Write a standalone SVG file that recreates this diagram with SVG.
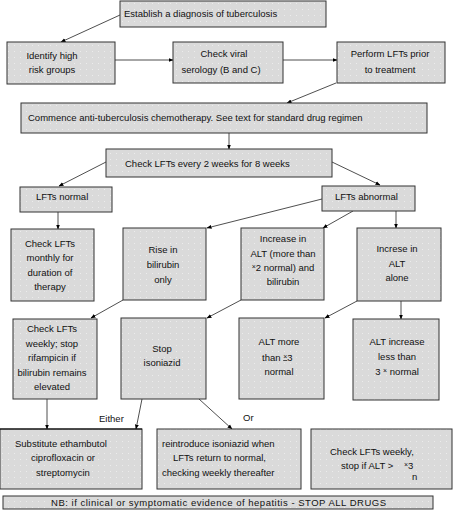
<svg xmlns="http://www.w3.org/2000/svg" width="454" height="512" viewBox="0 0 454 512">
<defs>
<marker id="ah" viewBox="0 0 10 10" refX="9" refY="5" markerWidth="5" markerHeight="5" orient="auto-start-reverse" markerUnits="userSpaceOnUse">
<path d="M0,1 L10,5 L0,9 z" fill="#000"/>
</marker>
<pattern id="dots" width="6" height="6" patternUnits="userSpaceOnUse">
<rect width="6" height="6" fill="#dadada"/>
<rect x="2" y="3" width="1" height="1" fill="#ececec"/>
</pattern>
</defs>
<style>
.box{fill:url(#dots);stroke:#333;stroke-width:1}
text{font-family:"Liberation Sans",Arial,sans-serif;font-size:9.5px;fill:#111}
.c{text-anchor:middle}
.ln{stroke:#222;stroke-width:0.8;fill:none;marker-end:url(#ah)}
</style>
<rect width="454" height="512" fill="#fff"/>
<g id="connectors">
<line class="ln" x1="120" y1="15" x2="61" y2="42"/>
<line class="ln" x1="115" y1="60" x2="173" y2="60"/>
<line class="ln" x1="283" y1="60" x2="337" y2="60"/>
<line class="ln" x1="336" y1="83" x2="287" y2="103"/>
<line class="ln" x1="229" y1="133" x2="229" y2="149"/>
<line class="ln" x1="106" y1="162" x2="59" y2="186"/>
<line class="ln" x1="332" y1="162" x2="380" y2="185"/>
<line class="ln" x1="58" y1="212" x2="58" y2="229"/>
<line class="ln" x1="322" y1="199" x2="207" y2="228"/>
<line class="ln" x1="353" y1="211" x2="323" y2="228"/>
<line class="ln" x1="396" y1="211" x2="396" y2="228"/>
<line class="ln" x1="123" y1="300" x2="91" y2="318"/>
<line class="ln" x1="241" y1="300" x2="207" y2="318"/>
<line class="ln" x1="357" y1="301" x2="325" y2="318"/>
<line class="ln" x1="401" y1="301" x2="401" y2="319"/>
<line class="ln" x1="47" y1="399" x2="47" y2="429"/>
<line class="ln" x1="142" y1="399" x2="136" y2="429"/>
<line class="ln" x1="199" y1="399" x2="232" y2="429"/>
<text x="99" y="422">Either</text>
<text x="243" y="421">Or</text>
</g>
<g id="n1"><rect class="box" x="120" y="1" width="206" height="26"/><text x="124" y="17">Establish a diagnosis of tuberculosis</text></g>
<g id="n2"><rect class="box" x="7" y="42" width="108" height="42"/><text class="c" x="52" y="59">Identify high</text><text class="c" x="52" y="73">risk groups</text></g>
<g id="n3"><rect class="box" x="173" y="42" width="110" height="41"/><text class="c" x="224" y="57">Check viral</text><text class="c" x="221" y="73">serology (B and C)</text></g>
<g id="n4"><rect class="box" x="337" y="42" width="108" height="41"/><text class="c" x="390" y="57">Perform LFTs prior</text><text class="c" x="390" y="73">to treatment</text></g>
<g id="n5"><rect class="box" x="21" y="103" width="406" height="30" stroke-width="1.3"/><text x="28" y="121">Commence anti-tuberculosis chemotherapy. See text for standard drug regimen</text></g>
<g id="n6"><rect class="box" x="106" y="149" width="226" height="28"/><text x="125" y="167">Check LFTs every 2 weeks for 8 weeks</text></g>
<g id="n7"><rect class="box" x="20" y="187" width="92" height="25"/><text x="36" y="200">LFTs normal</text></g>
<g id="n8"><rect class="box" x="322" y="186" width="93" height="25"/><text x="335" y="200">LFTs abnormal</text></g>
<g id="n9"><rect class="box" x="11" y="229" width="83" height="72"/><text class="c" x="50" y="247">Check LFTs</text><text class="c" x="50" y="261">monthly for</text><text class="c" x="50" y="276">duration of</text><text class="c" x="50" y="290">therapy</text></g>
<g id="n10"><rect class="box" x="123" y="228" width="83" height="72"/><text class="c" x="163" y="253">Rise in</text><text class="c" x="163" y="268">bilirubin</text><text class="c" x="163" y="283">only</text></g>
<g id="n11"><rect class="box" x="241" y="228" width="83" height="72"/><text class="c" x="283" y="242">Increase in</text><text class="c" x="283" y="257">ALT (more than</text><text class="c" x="283" y="271"><tspan font-size="7" dy="-2">×</tspan><tspan dy="2">2 normal) and</tspan></text><text class="c" x="283" y="285">bilirubin</text></g>
<g id="n12"><rect class="box" x="357" y="228" width="84" height="73"/><text class="c" x="397" y="252">Increse in</text><text class="c" x="397" y="267">ALT</text><text class="c" x="397" y="281">alone</text></g>
<g id="n13"><rect class="box" x="13" y="319" width="84" height="80"/><text class="c" x="52" y="332">Check LFTs</text><text class="c" x="52" y="347">weekly; stop</text><text class="c" x="52" y="361">rifampicin if</text><text class="c" x="52" y="376">bilirubin remains</text><text class="c" x="52" y="390">elevated</text></g>
<g id="n14"><rect class="box" x="121" y="318" width="85" height="81"/><text class="c" x="162" y="352">Stop</text><text class="c" x="162" y="366">isoniazid</text></g>
<g id="n15"><rect class="box" x="239" y="318" width="85" height="81"/><text class="c" x="279" y="345">ALT more</text><text x="262" y="361">than  <tspan font-size="7" dy="-2" text-decoration="underline">×</tspan><tspan dy="2">3</tspan></text><text class="c" x="279" y="375">normal</text></g>
<g id="n16"><rect class="box" x="353" y="319" width="86" height="81" stroke-width="1.3"/><text class="c" x="397" y="345">ALT increase</text><text class="c" x="397" y="360">less than</text><text class="c" x="397" y="375">3 <tspan font-size="7" dy="-2">×</tspan><tspan dy="2"> normal</tspan></text></g>
<g id="n17"><rect class="box" x="0" y="429" width="142" height="60"/><line x1="0" y1="429" x2="142" y2="429" stroke="#000" stroke-width="1.2"/><text x="15" y="447">Substitute ethambutol</text><text x="31" y="461">ciprofloxacin or</text><text x="36" y="476">streptomycin</text></g>
<g id="n18"><rect class="box" x="157" y="429" width="144" height="60"/><text x="162" y="447">reintroduce isoniazid when</text><text x="173" y="461">LFTs return to normal,</text><text x="162" y="476">checking weekly thereafter</text></g>
<g id="n19"><rect class="box" x="311" y="429" width="141" height="60"/><text x="330" y="455">Check LFTs weekly,</text><text x="341" y="469">stop if ALT &gt;</text><text x="404" y="469"><tspan font-size="7" dy="-2">×</tspan><tspan dy="2">3</tspan></text><text x="412" y="480" font-size="7">n</text></g>
<g id="n20"><rect class="box" x="3" y="496" width="430" height="13"/><text x="51" y="506" textLength="335" font-size="9.5">NB: if clinical or symptomatic evidence of hepatitis - STOP ALL DRUGS</text></g>
</svg>
